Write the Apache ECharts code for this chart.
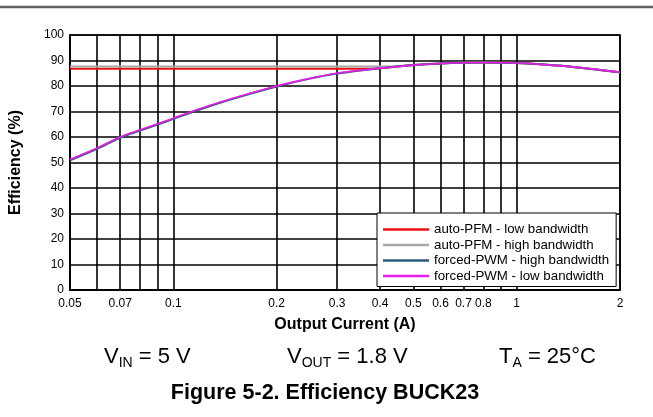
<!DOCTYPE html>
<html>
<head>
<meta charset="utf-8">
<script src="https://cdn.jsdelivr.net/npm/echarts@6/dist/echarts.min.js"></script>
<style>
  html, body { margin: 0; padding: 0; background: #fff; }
  #EChartEfficiency { width: 653px; height: 417px; }
</style>
</head>
<body>
<div id="EChartEfficiency"></div>
<script>
// output current (A) for the forced-PWM curves
const currentPWM = [0.05, 0.06, 0.07, 0.08, 0.09, 0.1, 0.12, 0.15, 0.2, 0.25, 0.3, 0.4, 0.5, 0.6, 0.7, 0.8, 1, 1.2, 1.5, 2];
const pwmLowBw = [51.2, 55.7, 60, 62.8, 65.2, 67.4, 71.2, 75.3, 80, 83, 85, 87, 88.2, 88.8, 89.1, 89.2, 89, 88.4, 87.3, 85.4];
const pwmHighBw = [50.9, 55.4, 59.7, 62.5, 64.9, 67.1, 70.9, 75.1, 79.8, 82.9, 84.9, 87, 88.2, 88.8, 89.1, 89.2, 89, 88.4, 87.3, 85.4];
// output current (A) for the auto-PFM curves
const currentPFM = [0.05, 0.1, 0.15, 0.2, 0.3, 0.35, 0.4, 0.45, 0.5, 0.6, 0.7, 0.8, 1, 1.2, 1.5, 2];
const pfmLowBw = [86.8, 86.8, 86.8, 86.8, 86.8, 86.8, 87, 87.6, 88.2, 88.8, 89.1, 89.2, 89, 88.4, 87.3, 85.4];
const pfmHighBw = [87.6, 87.6, 87.6, 87.6, 87.6, 87.6, 87.65, 87.75, 88.2, 88.8, 89.1, 89.2, 89, 88.4, 87.3, 85.4];
// grid lines and tick labels of the log x axis
const xGridValues = [0.05, 0.06, 0.07, 0.08, 0.09, 0.1, 0.2, 0.3, 0.4, 0.5, 0.6, 0.7, 0.8, 0.9, 1, 2];
const xLabelValues = [0.05, 0.07, 0.1, 0.2, 0.3, 0.4, 0.5, 0.6, 0.7, 0.8, 1, 2];
const seriesNames = [
  "auto-PFM - low bandwidth",
  "auto-PFM - high bandwidth",
  "forced-PWM - high bandwidth",
  "forced-PWM - low bandwidth",
];

function pairs(xs, ys) {
  return xs.map((x, i) => [x, ys[i]]);
}

let chart = echarts.init(document.getElementById("EChartEfficiency"));

const lineSeries = (name, xs, ys, color, width) => ({
  name: name,
  type: "line",
  data: pairs(xs, ys),
  smooth: 0.3,
  symbol: "none",
  lineStyle: { color: color, width: width },
  itemStyle: { color: color },
});

// text under the chart (subscripts via rich text)
const bigRich = {
  m: { fontSize: 22, lineHeight: 27, color: "#000", fontFamily: "Arial" },
  s: { fontSize: 14, lineHeight: 14, verticalAlign: "bottom", color: "#000", fontFamily: "Arial" },
};

let option = {
  animation: false,
  textStyle: { fontFamily: "Arial" },
  grid: {
    left: 70,
    right: 33,
    top: 35,
    bottom: 127,
    show: true,
    borderColor: "#000",
    borderWidth: 1.6,
    outerBoundsMode: "none",
  },
  legend: {
    orient: "vertical",
    left: 377,
    top: 213,
    padding: [10, 7, 4, 6],
    itemGap: 2.5,
    itemWidth: 46,
    itemHeight: 2.5,
    icon: "rect",
    backgroundColor: "#fff",
    borderColor: "#000",
    borderWidth: 1,
    textStyle: { fontSize: 13.3, color: "#000" },
    data: seriesNames,
  },
  xAxis: {
    type: "log",
    logBase: 10,
    min: 0.05,
    max: 2,
    name: "Output Current (A)",
    nameLocation: "middle",
    nameGap: 27,
    nameTextStyle: { fontWeight: "bold", fontSize: 16, color: "#000" },
    axisLine: { show: true, lineStyle: { color: "#000", width: 1.6 } },
    axisTick: { show: false, customValues: xGridValues },
    axisLabel: {
      customValues: xLabelValues,
      color: "#000",
      fontSize: 12,
      margin: 8,
      formatter: (v) => String(+Number(v).toPrecision(3)),
    },
    splitLine: { show: true, lineStyle: { color: "#000", width: 1.6 } },
  },
  yAxis: {
    type: "value",
    min: 0,
    max: 100,
    interval: 10,
    name: "Efficiency (%)",
    nameLocation: "middle",
    nameGap: 46,
    nameTextStyle: { fontWeight: "bold", fontSize: 16, color: "#000" },
    axisLine: { show: true, lineStyle: { color: "#000", width: 1.6 } },
    axisTick: { show: false },
    axisLabel: { color: "#000", fontSize: 12, margin: 6 },
    splitLine: { show: true, lineStyle: { color: "#000", width: 1.6 } },
  },
  series: [
    lineSeries(seriesNames[0], currentPFM, pfmLowBw, "#ee1111", 2),
    lineSeries(seriesNames[1], currentPFM, pfmHighBw, "#a8a8a8", 2),
    lineSeries(seriesNames[2], currentPWM, pwmHighBw, "#2b5b7c", 2),
    lineSeries(seriesNames[3], currentPWM, pwmLowBw, "#e61ee6", 1.6),
  ],
  graphic: [
    {
      type: "line",
      shape: { x1: 0, y1: 7, x2: 653, y2: 7 },
      style: { stroke: "#606060", lineWidth: 2.5 },
    },
    {
      type: "text",
      x: 104,
      y: 343,
      style: { text: "{m|V}{s|IN}{m| = 5 V}", rich: bigRich, verticalAlign: "top" },
    },
    {
      type: "text",
      x: 287,
      y: 343,
      style: { text: "{m|V}{s|OUT}{m| = 1.8 V}", rich: bigRich, verticalAlign: "top" },
    },
    {
      type: "text",
      x: 499,
      y: 343,
      style: { text: "{m|T}{s|A}{m| = 25°C}", rich: bigRich, verticalAlign: "top" },
    },
    {
      type: "text",
      x: 325,
      y: 393,
      style: {
        text: "Figure 5-2. Efficiency BUCK23",
        fontSize: 21.5,
        fontWeight: "bold",
        fontFamily: "Arial",
        fill: "#000",
        align: "center",
        verticalAlign: "middle",
      },
    },
  ],
};
option && chart.setOption(option);
</script>
</body>
</html>
